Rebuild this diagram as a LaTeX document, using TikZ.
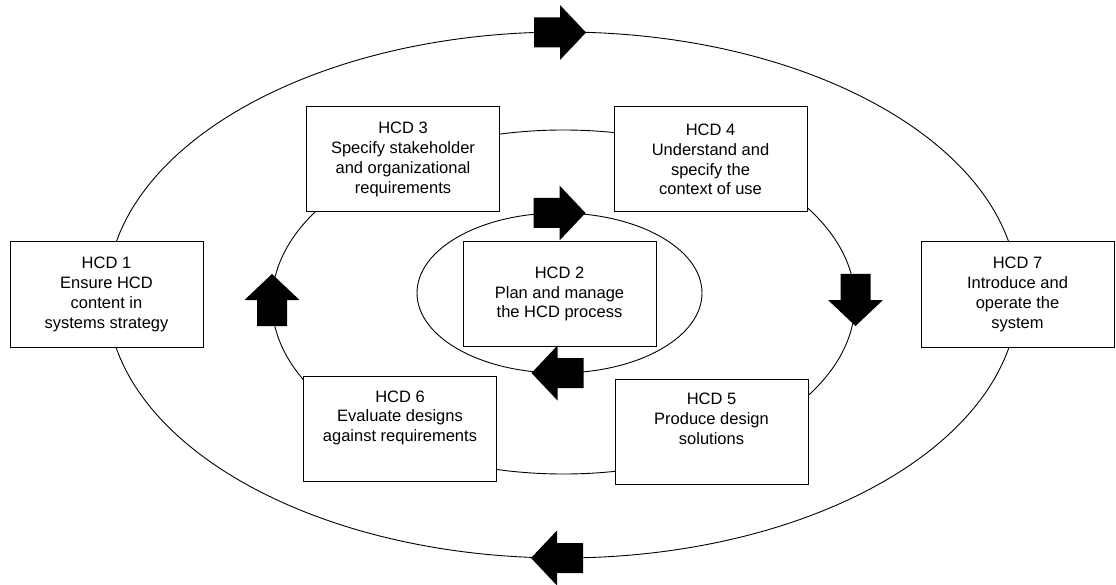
\documentclass[tikz,border=0pt]{standalone}
\usepackage{fontspec}
\setmainfont{Liberation Sans}
\begin{document}
\begin{tikzpicture}[x=1pt,y=-1pt,
  stage/.style={draw=black, line width=1pt, fill=white,
    minimum width=193pt, minimum height=105pt, inner sep=0pt,
    align=center, font=\fontsize{16.5}{19.8}\selectfont},
  loop/.style={draw=black, line width=0.9pt},
  blockarrow/.pic={
    \fill[black] (-26,-15) -- (0,-15) -- (0,-27.5) -- (26,0)
      -- (0,27.5) -- (0,15) -- (-26,15) -- cycle;}
]
\useasboundingbox (0,0) rectangle (1116,585);

% the three cycles
\draw[loop] (562.5,295) ellipse [x radius=455.5pt, y radius=263pt];
\draw[loop] (563.5,302) ellipse [x radius=291.5pt, y radius=172pt];
\draw[loop] (559.5,293) ellipse [x radius=142.5pt, y radius=80pt];

% activities
\node[stage] (hcd1) at (106.5,294.5) {HCD 1\\Ensure HCD\\content in\\systems strategy};
\node[stage] (hcd2) at (559.5,294)   {HCD 2\\Plan and manage\\the HCD process};
\node[stage] (hcd3) at (403,159.5)   {HCD 3\\Specify stakeholder\\and organizational\\requirements};
\node[stage] (hcd4) at (710.5,159.5) {HCD 4\\Understand and\\specify the\\context of use};
\node[stage] (hcd5) at (711.5,431.5) {HCD 5\\Produce design\\solutions\\[6pt]};
\node[stage] (hcd6) at (400,429)     {HCD 6\\Evaluate designs\\against requirements\\[6pt]};
\node[stage] (hcd7) at (1017.5,294.5) {HCD 7\\Introduce and\\operate the\\system};

% direction of travel on each cycle
\pic at (560,32.5) {blockarrow};
\pic[rotate=180] at (557,558) {blockarrow};
\pic[rotate=90] at (272,300) {blockarrow};
\pic[rotate=-90] at (855.5,300) {blockarrow};
\pic at (559.5,213) {blockarrow};
\pic[rotate=180] at (557.5,373) {blockarrow};
\end{tikzpicture}
\end{document}
